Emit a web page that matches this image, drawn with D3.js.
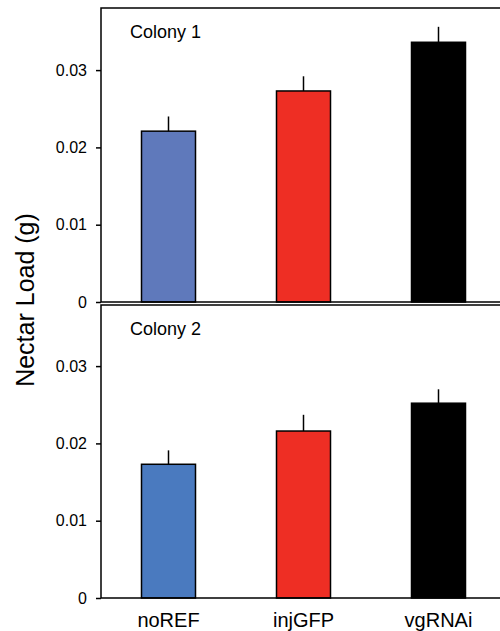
<!DOCTYPE html>
<html>
<head>
<meta charset="utf-8">
<style>
  body { margin: 0; background: #fff; }
  text { font-family: "Liberation Sans", Arial, sans-serif; fill: #000; }
</style>
</head>
<body>
<svg width="500" height="631"></svg>
<script src="https://d3js.org/d3.v7.min.js"></script>
<script>
    var groups = ["noREF", "injGFP", "vgRNAi"];
    var colony1 = [0.0221, 0.0273, 0.0336];
    var colony1Err = [0.0019, 0.0019, 0.0020];
    var colony2 = [0.0173, 0.0216, 0.0252];
    var colony2Err = [0.0018, 0.0021, 0.0018];
    var yTicks = [0, 0.01, 0.02, 0.03];
    var tickLabels = ["0", "0.01", "0.02", "0.03"];

    var svg = d3.select("svg");

    var x = d3.scaleBand()
        .domain(groups)
        .range([101, 506])
        .paddingInner(0.6)
        .paddingOuter(0.3);

    var panels = [
        { name: "Colony 1", values: colony1, err: colony1Err, top: 8, zero: 302,
          colors: ["#5f79bb", "#ee2e24", "#000000"] },
        { name: "Colony 2", values: colony2, err: colony2Err, top: 305, zero: 598,
          colors: ["#4a7abf", "#ee2e24", "#000000"] }
    ];

    panels.forEach(function(p) {
        var y = d3.scaleLinear()
            .domain([0, 0.038])
            .range([p.zero, p.zero - 0.038 * 7730]);

        var g = svg.append("g");

        // bars
        g.selectAll("rect")
            .data(p.values)
            .enter().append("rect")
            .attr("x", function(d, i) { return x(groups[i]); })
            .attr("width", x.bandwidth())
            .attr("y", function(d) { return y(d); })
            .attr("height", function(d) { return y(0) - y(d); })
            .attr("fill", function(d, i) { return p.colors[i]; })
            .attr("stroke", "#000")
            .attr("stroke-width", 1.5);

        // error bars (upper only)
        g.selectAll("line.err")
            .data(p.values)
            .enter().append("line")
            .attr("class", "err")
            .attr("x1", function(d, i) { return x(groups[i]) + x.bandwidth() / 2; })
            .attr("x2", function(d, i) { return x(groups[i]) + x.bandwidth() / 2; })
            .attr("y1", function(d) { return y(d); })
            .attr("y2", function(d, i) { return y(d + p.err[i]); })
            .attr("stroke", "#000")
            .attr("stroke-width", 1.5);

        // frame: top, left, bottom (open at right)
        g.append("path")
            .attr("d", "M500," + p.top + "H101V" + y(0) + "H500")
            .attr("fill", "none")
            .attr("stroke", "#000")
            .attr("stroke-width", 1.5);

        var axis = d3.axisLeft(y)
            .tickValues(yTicks)
            .tickFormat(function(d, i) { return tickLabels[i]; })
            .tickSize(5)
            .tickPadding(9);

        var ag = g.append("g")
            .attr("transform", "translate(101,0)")
            .call(axis);
        ag.select(".domain").remove();
        ag.selectAll(".tick line").attr("stroke", "#000").attr("stroke-width", 1.5);
        ag.selectAll(".tick text")
            .attr("font-family", "'Liberation Sans', Arial, sans-serif")
            .attr("font-size", 16)
            .attr("fill", "#000");

        g.append("text")
            .attr("x", 130)
            .attr("y", p.top + 30)
            .attr("font-size", 18)
            .text(p.name);
    });

    // category labels
    svg.selectAll("text.cat")
        .data(groups)
        .enter().append("text")
        .attr("class", "cat")
        .attr("x", function(d) { return x(d) + x.bandwidth() / 2; })
        .attr("y", 627)
        .attr("text-anchor", "middle")
        .attr("font-size", 20)
        .text(function(d) { return d; });

    // y axis title
    svg.append("text")
        .attr("transform", "translate(34,300) rotate(-90)")
        .attr("text-anchor", "middle")
        .attr("font-size", 25)
        .text("Nectar Load (g)");
</script>
</body>
</html>
